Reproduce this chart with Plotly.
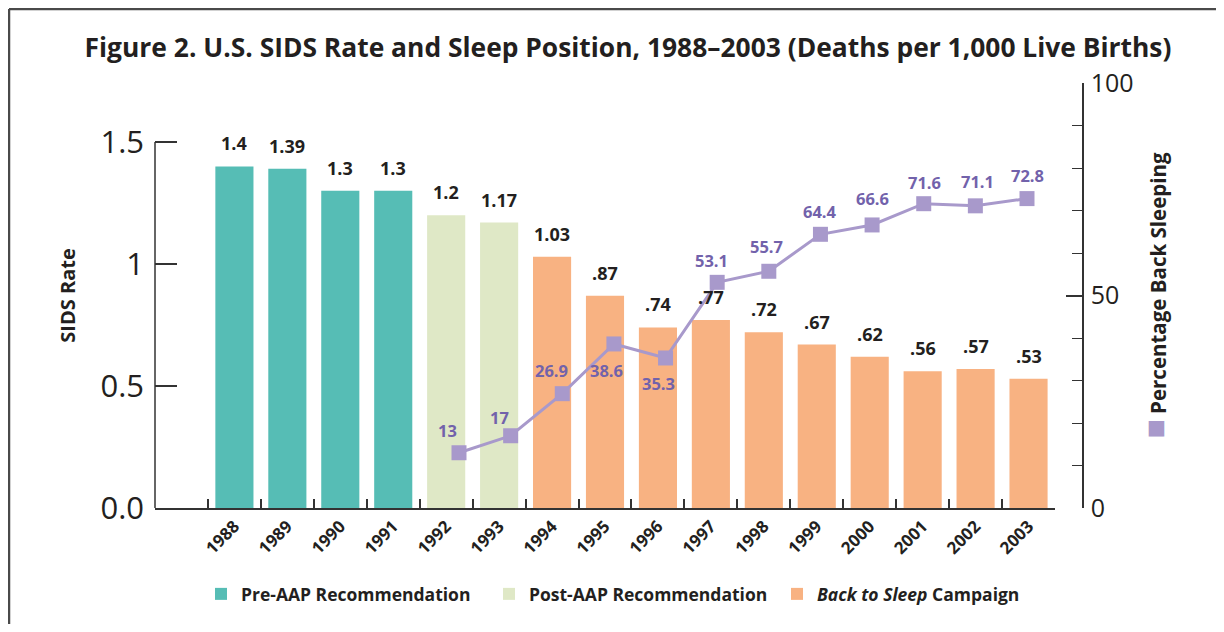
import plotly.graph_objects as go

# ---------------- data ----------------
years = [str(y) for y in range(1988, 2004)]
sids_rate = [1.4, 1.39, 1.3, 1.3, 1.2, 1.17, 1.03, 0.87, 0.74, 0.77, 0.72, 0.67, 0.62, 0.56, 0.57, 0.53]
sids_labels = ["1.4", "1.39", "1.3", "1.3", "1.2", "1.17", "1.03", ".87", ".74", ".77",
               ".72", ".67", ".62", ".56", ".57", ".53"]
period = ["pre"] * 4 + ["post"] * 2 + ["back"] * 10

back_years = [str(y) for y in range(1992, 2004)]
back_pct = [13, 17, 26.9, 38.6, 35.3, 53.1, 55.7, 64.4, 66.6, 71.6, 71.1, 72.8]
back_labels = ["13", "17", "26.9", "38.6", "35.3", "53.1", "55.7", "64.4", "66.6", "71.6", "71.1", "72.8"]

# ---------------- style ----------------
FONT = "Open Sans"
DARK = "#231f20"
C_PRE, C_POST, C_BACK = "#56bdb5", "#dfe8c6", "#f8b282"
C_LINE = "#a899cb"
C_LBL = "#7262ab"
groups = [("pre", "Pre-AAP Recommendation", C_PRE),
          ("post", "Post-AAP Recommendation", C_POST),
          ("back", "<i>Back to Sleep</i> Campaign", C_BACK)]
# label offsets (px) for the line labels: (xshift, yshift)
line_label_shift = [(-12, 22), (-11, 18), (-11, 23), (-7, -27), (-7, -26), (-6, 22),
                    (-2, 25), (0, 23), (0, 26), (1, 21), (2, 24), (0, 23)]

OFF = 8                      # page body margin
W, H = 1224 - 2 * OFF, 632 - 2 * OFF
L = 155 - OFF                # left axis (page x 155)
XR = 1083 - OFF              # right axis (page x 1083)
YB = 508 - OFF               # zero line (page y 508)
YT = 83 - OFF                # top of right axis (page y 83)
R, T, B = W - XR, YT, H - YB
pw, ph = XR - L, YB - YT
Y_LEFT_MAX = 1.5 * ph / (YB - (142 - OFF))   # 1.5 sits at page y 142
X_DOM = (1055 - 155) / pw                    # bar axis spans page x 155..1055

# the line series in the original is drawn on a slightly compressed year scale:
# first point at page x 459, last at page x 1027
_step = (1027 - 459) / (len(back_years) - 1)
X2_RANGE = [-(459 - 155) / _step, (len(back_years) - 1) + (1055 - 1027) / _step]


def px_x(p):
    return (p - OFF - L) / pw


def px_y(p):
    return (YB - (p - OFF)) / ph


fig = go.Figure()
for key, name, col in groups:
    xs = [y for y, p in zip(years, period) if p == key]
    vs = [v for v, p in zip(sids_rate, period) if p == key]
    fig.add_trace(go.Bar(x=xs, y=vs, name=name, marker=dict(color=col, line=dict(width=0)),
                         width=0.72))

fig.add_trace(go.Scatter(x=back_years, y=back_pct, mode="lines+markers", showlegend=False,
                         name="Percentage Back Sleeping",
                         line=dict(color=C_LINE, width=3),
                         marker=dict(symbol="square", size=15, color=C_LINE),
                         xaxis="x2", yaxis="y2"))

ann = []
for i, (v, t) in enumerate(zip(sids_rate, sids_labels)):
    ann.append(dict(x=i, y=v, xref="x", yref="y", text=f"<b>{t}</b>", showarrow=False,
                    yanchor="middle", yshift=23,
                    font=dict(family=FONT, size=18, color=DARK)))
for i, (v, t, (dx, dy)) in enumerate(zip(back_pct, back_labels, line_label_shift)):
    ann.append(dict(x=i, y=v, xref="x2", yref="y2", text=f"<b>{t}</b>", showarrow=False,
                    yanchor="middle", xshift=dx, yshift=dy,
                    font=dict(family=FONT, size=16.5, color=C_LBL)))

shapes = [
    # left SIDS-rate axis line (0 to 1.5 only)
    dict(type="line", xref="paper", yref="y", x0=0, x1=0, y0=0, y1=1.5,
         line=dict(color="#333", width=1.5)),
    # outer frame (top and left edges, at the page edge)
    dict(type="line", xref="paper", yref="paper", x0=px_x(9), x1=px_x(1260), y0=px_y(9), y1=px_y(9),
         line=dict(color="#4a4a4a", width=2.5)),
    dict(type="line", xref="paper", yref="paper", x0=px_x(9), x1=px_x(9), y0=px_y(9), y1=px_y(660),
         line=dict(color="#4a4a4a", width=2.5)),
]

fig.update_layout(
    width=W, height=H,
    margin=dict(l=L, r=R, t=T, b=B, autoexpand=False),
    paper_bgcolor="white", plot_bgcolor="white",
    barmode="overlay",
    font=dict(family=FONT, color=DARK),
    title=dict(text="Figure 2. U.S. SIDS Rate and Sleep Position, 1988–2003 (Deaths per 1,000 Live Births)",
               x=(628 - OFF) / W, xref="container", xanchor="center",
               y=1 - (48 - OFF) / H, yref="container", yanchor="middle",
               font=dict(family=FONT, size=26.4, color=DARK, weight="bold")),
    xaxis=dict(type="category", domain=[0, X_DOM], range=[-1.5, 15.5],
               showline=True, linecolor="#333", linewidth=1.5,
               ticks="inside", ticklen=9, tickcolor="#333", tickwidth=1.5, tickson="boundaries",
               tickangle=-45, tickfont=dict(family=FONT, size=17, color=DARK, weight="bold"),
               showgrid=False, zeroline=False),
    xaxis2=dict(type="category", domain=[0, X_DOM], range=X2_RANGE, overlaying="x",
                anchor="y2", visible=False, showgrid=False, zeroline=False),
    yaxis=dict(range=[0, Y_LEFT_MAX],
               tickvals=[0, 0.5, 1, 1.5], ticktext=["0.0", "0.5", "1", "1.5"],
               showline=False,
               ticks="inside", ticklen=22, tickcolor="#333", tickwidth=1.5,
               ticklabelstandoff=10,
               tickfont=dict(family=FONT, size=31, color=DARK),
               title=dict(text="SIDS Rate", standoff=19,
                          font=dict(family=FONT, size=20, color=DARK, weight="bold")),
               showgrid=False, zeroline=False),
    yaxis2=dict(overlaying="y", range=[0, 100], anchor="free", position=1, side="right",
                tickvals=[0, 50, 100],
                showline=True, linecolor="#333", linewidth=1.5,
                ticks="inside", ticklen=16, tickcolor="#333", tickwidth=1.5,
                minor=dict(ticks="inside", dtick=10, ticklen=10, tickcolor="#333", tickwidth=1.2),
                ticklabelstandoff=2,
                tickfont=dict(family=FONT, size=25, color=DARK),
                title=dict(text=f'<span style="color:{C_LINE};font-size:32px">■</span> Percentage Back Sleeping',
                           standoff=18,
                           font=dict(family=FONT, size=20.5, color=DARK, weight="bold")),
                showgrid=False, zeroline=False),
    legend=dict(orientation="h", x=(201 - OFF - L) / pw, y=px_y(594), xanchor="left", yanchor="middle",
                font=dict(family=FONT, size=17.5, color=DARK, weight="bold"),
                bgcolor="rgba(0,0,0,0)", traceorder="normal",
                entrywidth=243, entrywidthmode="pixels"),
    annotations=ann,
    shapes=shapes,
)

fig.write_html("out.html")
